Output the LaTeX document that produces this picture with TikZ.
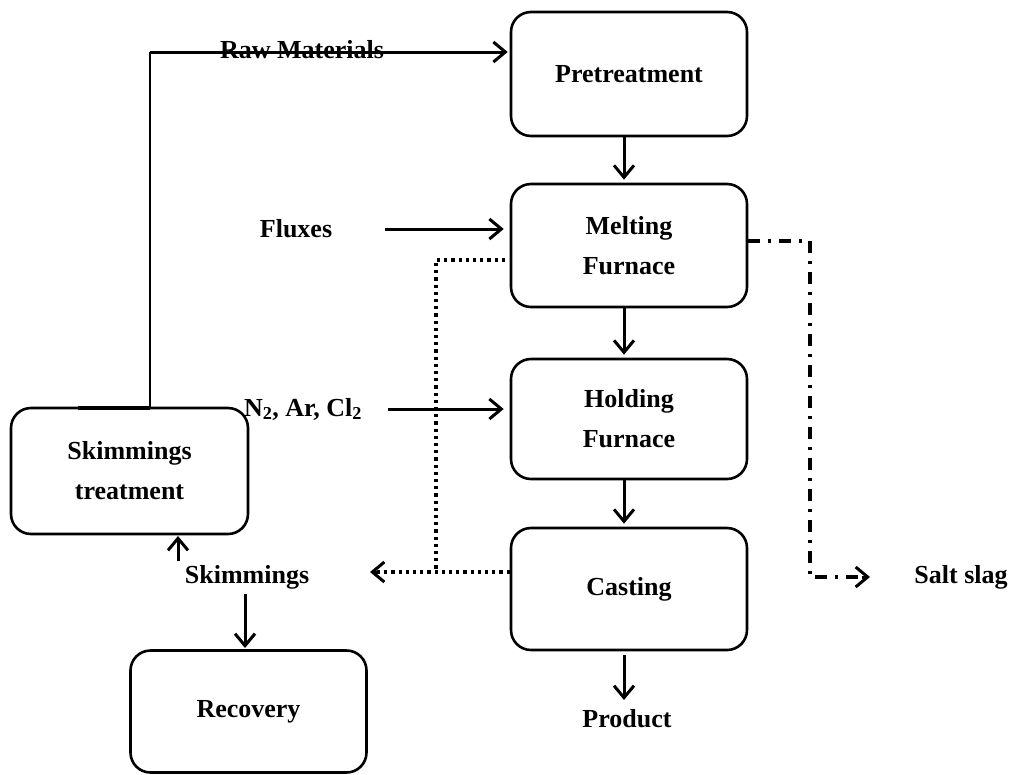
\documentclass[tikz,border=0pt]{standalone}
\usepackage{fontspec}
\setmainfont{Liberation Serif}
\usetikzlibrary{arrows.meta}
\begin{document}
\begin{tikzpicture}[x=1pt,y=-1pt,
  every node/.style={font=\bfseries\fontsize{26}{40}\selectfont, align=center, inner sep=0pt},
  box/.style={draw, line width=2.6pt, rounded corners=20pt, minimum width=236pt, minimum height=122pt},
  lbl/.style={},
  tip/.style={-{Straight Barb[length=12pt,width=20pt,line width=3pt]}},
  conn/.style={line width=3pt},
  arr/.style={conn, tip},
  dotline/.style={line width=3.2pt, dash pattern=on 3.2pt off 4pt},
  dashdot/.style={line width=3.2pt, dash pattern=on 12pt off 8pt on 3pt off 8pt}
]
\useasboundingbox (0,0) rectangle (1016,774);

% boxes
\node[box, minimum height=124pt] (pre) at (629,74) {Pretreatment};
\node[box, minimum height=123pt] (melt) at (629,245.5) {Melting\\Furnace};
\node[box, minimum height=120pt] (hold) at (629,419) {Holding\\Furnace};
\node[box] (cast) at (629,589) {Casting};
\node[box, minimum width=237pt, minimum height=126pt] (skt) at (129.5,471) {Skimmings\\treatment};
\node[box, minimum height=122pt] (rec) at (248.5,711.5) {Recovery};

% labels
\node[lbl] (raw) at (302,50) {Raw Materials};
\node[lbl] (flux) at (296,229) {Fluxes};
\node[lbl] (gas) at (303,409) {N\textsubscript{2}, Ar, Cl\textsubscript{2}};
\node[lbl] (skim) at (247,577) {Skimmings};
\node[lbl] (prod) at (627,719) {Product};
\node[lbl] (salt) at (961,577) {Salt slag};

% coordinates
\coordinate (stub) at (78,408);
\coordinate (rise) at (150,408);
\coordinate (topc) at (150,52);
\coordinate (dotA) at (505,260);
\coordinate (dotB) at (436,260);
\coordinate (dotC) at (436,572);
\coordinate (dotEnd) at (370,572);
\coordinate (ddA) at (810,241);
\coordinate (ddB) at (810,577);
\coordinate (ddEnd) at (870,577);
\coordinate (prodTop) at (624,700);

% raw materials loop
\draw[conn, line width=3.5pt] (stub) -- (rise);
\draw[conn, line width=2.4pt] (rise) -- (topc);
\draw[arr] (topc) -- ([xshift=-2pt]topc -| pre.west);

% vertical main flow
\draw[arr] ([xshift=-5pt]pre.south) -- ([xshift=-5pt,yshift=3pt]melt.north);
\draw[arr] ([xshift=-5pt]melt.south) -- ([xshift=-5pt,yshift=3pt]hold.north);
\draw[arr] ([xshift=-5pt]hold.south) -- ([xshift=-5pt,yshift=3pt]cast.north);
\draw[arr] ([xshift=-5pt,yshift=-4pt]cast.south) -- (prodTop);

% inputs
\draw[arr] (385,229) -- ([xshift=-6pt]melt.west |- 0,229);
\draw[arr] (388,409) -- ([xshift=-6pt]hold.west |- 0,409);

% dotted skimmings lines
\draw[dotline] (dotA) -- (dotB) -- (dotC);
\draw[dotline] (cast.west |- dotEnd) -- ([xshift=4pt]dotEnd);
\draw[conn, tip] ([xshift=8pt]dotEnd) -- (dotEnd);

% dash-dot salt slag
\draw[dashdot] (melt.east |- ddA) -- (ddA) -- (ddB) -- ([xshift=-8pt]ddEnd);
\draw[conn, tip] ([xshift=-8pt]ddEnd) -- (ddEnd);

% skimmings arrows
\draw[arr] (178,561) -- (178,536);
\draw[arr] (245,594) -- (245,648);
\end{tikzpicture}
\end{document}
